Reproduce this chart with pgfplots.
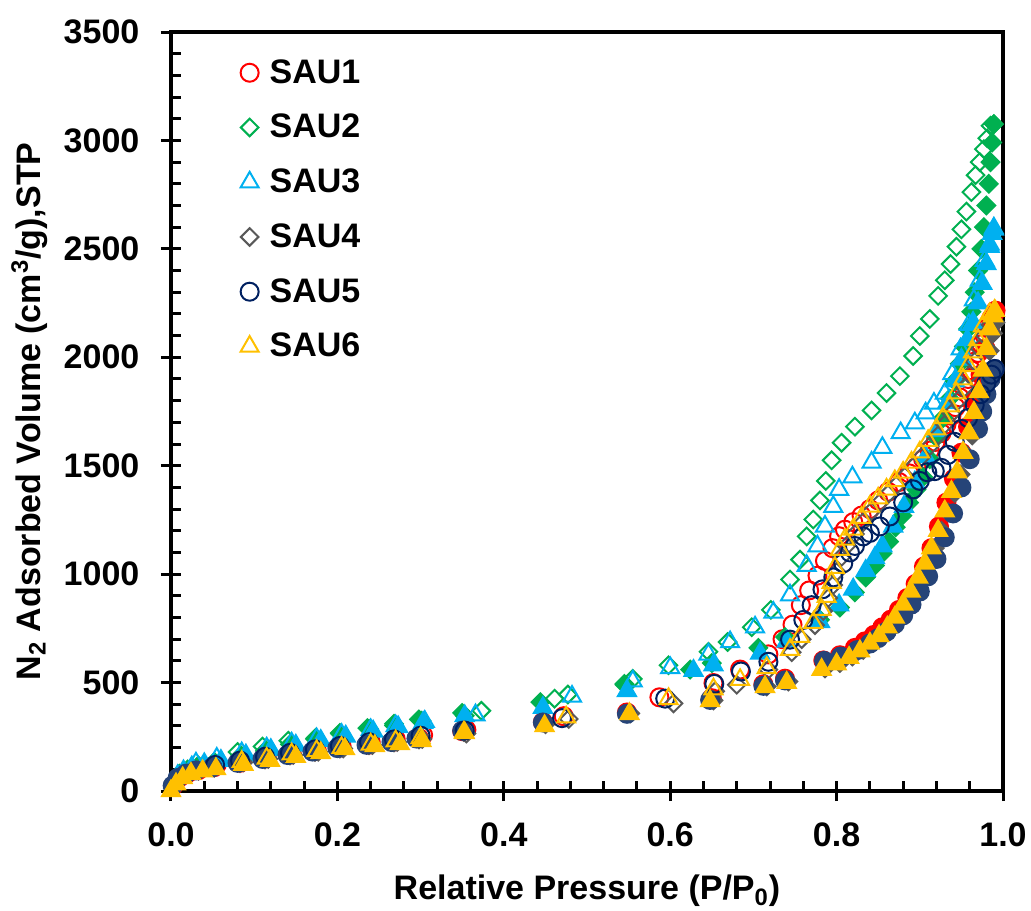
\documentclass[border=0pt]{standalone}
\usepackage{pgfplots}
\pgfplotsset{compat=1.18}
\usepackage{fontspec}
\setmainfont{Liberation Sans}
\definecolor{cRed}{HTML}{FF0000}
\definecolor{cGreen}{HTML}{00B050}
\definecolor{cCyan}{HTML}{00B0F0}
\definecolor{cGray}{HTML}{595959}
\definecolor{cNavy}{HTML}{002060}
\definecolor{cNavyF}{HTML}{264478}
\definecolor{cOrange}{HTML}{FFC000}
\begin{document}
\begin{tikzpicture}
\useasboundingbox (-85.5pt,-59.5pt) rectangle (430pt,395.5pt);
\begin{axis}[
  name=ax, scale only axis, width=416pt, height=379.5pt,
  xmin=0, xmax=1, ymin=0, ymax=3500,
  xtick={0,0.2,0.4,0.6,0.8,1.0}, ytick={0,500,1000,1500,2000,2500,3000,3500},
  minor x tick num=4, minor y tick num=4,
  xtick pos=bottom, ytick pos=left,
  tick align=inside, major tick length=10pt, minor tick length=5pt,
  major x tick style={yshift=-5pt}, major y tick style={xshift=-5pt},
  every tick/.style={black, line width=1.5pt},
  axis line style={line width=1.6pt},
  scaled ticks=false,
  /pgf/number format/assume math mode=true,
  tick label style={font=\fontsize{17}{20}\selectfont\bfseries},
  xticklabel style={/pgf/number format/.cd, fixed, fixed zerofill, precision=1, /tikz/.cd, yshift=-12.3pt},
  yticklabel style={/pgf/number format/1000 sep={}, xshift=-12.3pt},
  every axis x label/.style={at={(axis description cs:0.5,-0.132)}, anchor=center, font=\fontsize{17}{20}\selectfont\bfseries},
  every axis y label/.style={at={(axis description cs:-0.170,0.5)}, anchor=center, rotate=90, font=\fontsize{17}{20}\selectfont\bfseries},
  xlabel={Relative Pressure (P/P\textsubscript{0})},
  ylabel={N\textsubscript{2} Adsorbed Volume (cm\textsuperscript{3}/g),STP},
  legend style={draw=none, fill=none, at={(axis description cs:0.076,0.975)}, anchor=north west, font=\fontsize{17}{20}\selectfont\bfseries, row sep=10pt},
  legend cell align=left,
  clip=false,
]
% SAU1
\addplot[only marks, mark=*, mark size=4.5pt, mark options={draw=cRed, fill=cRed, line width=1pt}, forget plot] table {
0.003 25
0.010 62
0.020 82
0.033 96
0.052 110
0.083 130
0.113 150
0.143 168
0.173 184
0.203 200
0.238 214
0.268 228
0.298 244
0.350 276
0.447 318
0.548 362
0.650 428
0.712 492
0.738 518
0.784 602
0.804 626
0.822 660
0.834 690
0.845 720
0.855 755
0.865 790
0.875 835
0.885 890
0.895 955
0.905 1035
0.914 1120
0.923 1220
0.932 1330
0.941 1440
0.950 1560
0.958 1680
0.966 1800
0.973 1920
0.979 2040
0.984 2130
0.988 2190
0.991 2215
};
\addplot[only marks, mark=o, mark size=4.5pt, mark options={draw=cRed, line width=1pt}] table {
0.990 2205
0.986 2180
0.982 2140
0.978 2100
0.974 2060
0.970 2020
0.966 1980
0.962 1940
0.958 1900
0.953 1860
0.948 1815
0.943 1770
0.938 1730
0.932 1690
0.926 1650
0.919 1610
0.912 1570
0.904 1530
0.896 1495
0.887 1465
0.875 1425
0.862 1380
0.850 1340
0.840 1300
0.830 1270
0.820 1240
0.810 1205
0.803 1175
0.795 1120
0.786 1061
0.777 993
0.767 925
0.757 857
0.747 767
0.735 700
0.718 630
0.684 560
0.652 498
0.587 432
0.472 345
0.355 282
0.303 258
0.270 240
0.240 226
0.205 208
0.175 192
0.145 176
0.115 158
0.085 140
0.055 122
};
\addlegendentry{\hspace{3.5pt}SAU1}
% SAU2
\addplot[only marks, mark=square*, mark size=3.1pt, mark options={draw=cGreen, fill=cGreen, line width=1pt, rotate=45}, forget plot] table {
0.003 35
0.010 80
0.020 100
0.033 118
0.052 135
0.083 160
0.113 185
0.143 215
0.173 240
0.203 265
0.238 287
0.268 310
0.298 330
0.350 360
0.444 410
0.545 490
0.624 560
0.650 590
0.706 660
0.738 710
0.780 790
0.804 846
0.822 916
0.835 985
0.846 1040
0.855 1096
0.863 1150
0.871 1216
0.879 1270
0.887 1330
0.896 1390
0.904 1448
0.912 1530
0.920 1630
0.928 1720
0.936 1810
0.942 1890
0.948 1970
0.953 2050
0.958 2130
0.962 2210
0.966 2300
0.970 2400
0.974 2500
0.977 2600
0.980 2700
0.983 2800
0.985 2900
0.987 2990
0.989 3075
};
\addplot[only marks, mark=square, mark size=3.1pt, mark options={draw=cGreen, line width=1pt, rotate=45}] table {
0.989 3075
0.985 3068
0.981 3010
0.977 2960
0.972 2900
0.967 2840
0.962 2762
0.956 2672
0.950 2590
0.944 2510
0.937 2430
0.930 2355
0.922 2283
0.912 2177
0.900 2098
0.892 2006
0.876 1913
0.860 1835
0.842 1755
0.822 1680
0.806 1606
0.794 1525
0.787 1430
0.780 1340
0.772 1252
0.764 1174
0.756 1067
0.744 975
0.721 835
0.698 755
0.669 687
0.646 642
0.598 580
0.555 517
0.545 494
0.477 445
0.461 426
0.373 370
0.353 347
0.301 324
0.268 302
0.236 290
0.203 268
0.174 245
0.141 232
0.110 205
0.080 180
};
\addlegendentry{\hspace{3.5pt}SAU2}
% SAU3
\addplot[only marks, mark=triangle*, mark size=5.2pt, mark options={draw=cCyan, fill=cCyan, line width=1pt}, forget plot] table {
0.003 40
0.008 70
0.015 92
0.025 110
0.040 125
0.060 140
0.090 165
0.120 190
0.150 210
0.180 232
0.210 252
0.243 275
0.273 295
0.303 315
0.353 346
0.447 384
0.548 462
0.628 555
0.652 580
0.708 634
0.740 690
0.780 780
0.803 857
0.820 930
0.835 1016
0.846 1075
0.855 1129
0.868 1220
0.881 1311
0.894 1424
0.907 1540
0.920 1660
0.933 1790
0.942 1890
0.950 1990
0.957 2080
0.964 2160
0.970 2250
0.975 2340
0.980 2430
0.984 2510
0.987 2570
0.989 2595
};
\addplot[only marks, mark=triangle, mark size=5.2pt, mark options={draw=cCyan, line width=1pt}] table {
0.989 2590
0.984 2520
0.978 2445
0.972 2354
0.965 2263
0.959 2150
0.949 2037
0.939 1923
0.930 1833
0.917 1787
0.907 1742
0.894 1696
0.877 1651
0.855 1583
0.842 1515
0.819 1447
0.803 1390
0.796 1311
0.786 1220
0.777 1129
0.764 1039
0.744 903
0.724 823
0.702 755
0.672 687
0.646 630
0.600 568
0.555 506
0.482 436
0.366 350
0.305 320
0.270 300
0.240 282
0.205 260
0.175 240
0.145 220
0.115 197
0.085 175
0.055 150
0.030 128
};
\addlegendentry{\hspace{3.5pt}SAU3}
% SAU4
\addplot[only marks, mark=square*, mark size=3.1pt, mark options={draw=cGray, fill=cGray, line width=1pt, rotate=45}, forget plot] table {
0.003 28
0.010 60
0.020 80
0.033 94
0.052 108
0.083 128
0.113 146
0.143 164
0.173 180
0.203 196
0.238 211
0.268 224
0.298 238
0.352 272
0.450 308
0.552 358
0.652 418
0.716 482
0.742 505
0.786 565
0.804 590
0.819 620
0.832 650
0.844 685
0.855 720
0.865 760
0.874 805
0.884 860
0.893 920
0.902 985
0.910 1050
0.918 1120
0.926 1200
0.934 1285
0.942 1375
0.949 1460
0.956 1550
0.963 1640
0.969 1735
0.975 1830
0.980 1930
0.984 2030
0.988 2110
0.991 2160
};
\addplot[only marks, mark=square, mark size=3.1pt, mark options={draw=cGray, line width=1pt, rotate=45}] table {
0.990 2160
0.985 2150
0.978 2100
0.972 2040
0.966 1980
0.960 1920
0.954 1860
0.946 1800
0.938 1740
0.930 1690
0.922 1640
0.912 1590
0.902 1540
0.892 1495
0.882 1450
0.872 1410
0.862 1370
0.852 1330
0.842 1290
0.832 1240
0.822 1185
0.812 1130
0.806 1080
0.800 1010
0.796 950
0.790 890
0.784 830
0.774 765
0.758 700
0.746 640
0.718 560
0.680 490
0.654 460
0.604 404
0.478 332
0.355 265
0.302 240
0.272 226
0.242 212
0.207 196
0.177 181
0.147 166
0.117 148
0.087 132
};
\addlegendentry{\hspace{3.5pt}SAU4}
% SAU5
\addplot[only marks, mark=*, mark size=4.5pt, mark options={draw=cNavyF, fill=cNavyF, line width=1pt}, forget plot] table {
0.002 25
0.008 60
0.018 80
0.030 95
0.050 110
0.080 130
0.110 148
0.140 166
0.170 182
0.200 198
0.235 213
0.265 226
0.295 242
0.350 278
0.447 316
0.548 356
0.648 420
0.712 485
0.738 510
0.785 600
0.805 620
0.825 650
0.840 680
0.850 705
0.860 735
0.870 770
0.880 810
0.890 860
0.900 920
0.910 990
0.920 1070
0.930 1170
0.940 1280
0.950 1400
0.960 1530
0.970 1670
0.975 1750
0.980 1830
0.985 1900
0.990 1946
};
\addplot[only marks, mark=o, mark size=4.5pt, mark options={draw=cNavy, line width=1pt}] table {
0.990 1946
0.986 1920
0.980 1880
0.973 1830
0.966 1780
0.958 1720
0.950 1670
0.942 1610
0.934 1550
0.926 1490
0.918 1475
0.909 1470
0.900 1430
0.892 1391
0.880 1331
0.864 1266
0.852 1220
0.840 1190
0.832 1174
0.822 1130
0.816 1100
0.808 1050
0.796 985
0.783 930
0.770 857
0.760 789
0.744 698
0.718 596
0.685 551
0.653 494
0.594 426
0.470 336
0.353 279
0.300 255
0.268 238
0.238 225
0.203 208
0.173 192
0.143 176
0.113 158
0.083 140
0.053 120
};
\addlegendentry{\hspace{3.5pt}SAU5}
% SAU6
\addplot[only marks, mark=triangle*, mark size=5.2pt, mark options={draw=cOrange, fill=cOrange, line width=1pt}, forget plot] table {
0.000 0
0.006 32
0.014 60
0.024 80
0.038 92
0.054 102
0.087 122
0.119 140
0.150 158
0.180 176
0.209 194
0.245 208
0.275 217
0.301 231
0.353 268
0.449 300
0.551 356
0.648 415
0.714 480
0.740 500
0.782 560
0.800 585
0.815 615
0.828 645
0.840 680
0.851 715
0.861 755
0.870 800
0.880 860
0.889 920
0.898 985
0.906 1050
0.914 1120
0.922 1200
0.930 1290
0.938 1380
0.945 1470
0.952 1560
0.959 1650
0.965 1745
0.971 1840
0.976 1940
0.980 2040
0.984 2130
0.988 2190
0.990 2215
};
\addplot[only marks, mark=triangle, mark size=5.2pt, mark options={draw=cOrange, line width=1pt}] table {
0.990 2215
0.984 2200
0.976 2144
0.970 2080
0.964 2024
0.958 1960
0.952 1899
0.944 1835
0.936 1775
0.928 1720
0.920 1668
0.910 1615
0.900 1562
0.890 1515
0.880 1469
0.870 1430
0.860 1391
0.850 1350
0.840 1312
0.830 1260
0.820 1206
0.810 1160
0.804 1113
0.798 1030
0.794 961
0.788 896
0.782 836
0.772 776
0.756 712
0.744 652
0.716 568
0.684 513
0.652 470
0.598 425
0.475 340
0.352 270
0.300 245
0.270 230
0.240 215
0.205 200
0.175 185
0.145 170
0.115 150
0.085 135
};
\addlegendentry{\hspace{3.5pt}SAU6}
\end{axis}
\end{tikzpicture}
\end{document}
